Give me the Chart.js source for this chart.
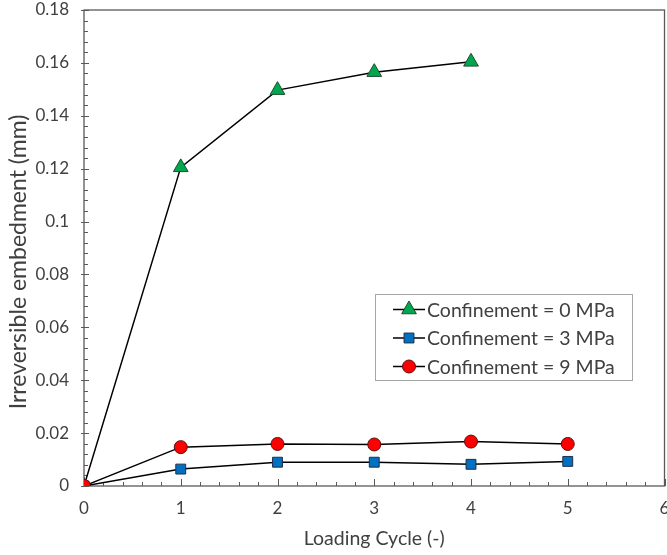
<!DOCTYPE html>
<html lang="en">
<head>
  <meta charset="UTF-8">
  <title>Irreversible embedment vs loading cycle</title>
  <script src="https://cdn.jsdelivr.net/npm/chart.js"></script>
  <style>
    html, body { margin: 0; padding: 0; background: #fff; overflow: hidden; }
    /* a little wider than the window so the last x label gets clipped, like the original */
    #wrap { width: 674px; height: 555px; }
  </style>
</head>
<body>
  <div id="wrap"><canvas id="myChart"></canvas></div>
  <script>
    // data
    const cycles = [0, 1, 2, 3, 4, 5];
    const conf0 = [0, 0.1205, 0.1497, 0.1565, 0.1604];
    const conf3 = [0, 0.0064, 0.0090, 0.0090, 0.0082, 0.0093];
    const conf9 = [0, 0.0147, 0.0159, 0.0157, 0.0168, 0.0159];
    const seriesNames = ["Confinement = 0 MPa", "Confinement = 3 MPa", "Confinement = 9 MPa"];
    const yTicks = [0, 0.02, 0.04, 0.06, 0.08, 0.1, 0.12, 0.14, 0.16, 0.18];
    const xTicks = [0, 1, 2, 3, 4, 5, 6];
    const yTitle = "Irreversible embedment (mm)";
    const xTitle = "Loading Cycle (-)";

    const FONT = "Lato";
    const TEXT = "#404040";
    const AXIS = "#595959";

    const toXY = (vals) => vals.map((v, i) => ({ x: cycles[i], y: v }));

    // frame + inner tick marks (major and minor)
    const framePlugin = {
      id: "frame",
      beforeDatasetsDraw(chart) {
        const { ctx, chartArea: a, scales: { x, y } } = chart;
        ctx.save();
        ctx.strokeStyle = AXIS;
        ctx.lineWidth = 1.3;
        ctx.strokeRect(a.left, a.top, a.right - a.left, a.bottom - a.top);
        ctx.lineWidth = 1;
        ctx.beginPath();
        for (let i = 0; i <= 30; i++) {
          const px = Math.round(x.getPixelForValue(i / 5)) + 0.5;
          const len = i % 5 === 0 ? 7 : 4;
          ctx.moveTo(px, a.bottom);
          ctx.lineTo(px, a.bottom - len);
        }
        for (let i = 0; i <= 45; i++) {
          const py = Math.round(y.getPixelForValue(i * 0.004)) + 0.5;
          const major = i % 5 === 0;
          ctx.moveTo(a.left - (major ? 3 : 0), py);
          ctx.lineTo(a.left + (major ? 5 : 4), py);
        }
        ctx.stroke();

        // y title sits a bit below the middle of the axis in the original
        ctx.fillStyle = TEXT;
        ctx.font = "23px " + FONT;
        ctx.textAlign = "center";
        ctx.textBaseline = "middle";
        ctx.translate(19, (a.top + a.bottom) / 2 + 14);
        ctx.rotate(-Math.PI / 2);
        ctx.fillText(yTitle, 0, 0);
        ctx.restore();
      }
    };

    // boxed legend inside the plot
    const legendPlugin = {
      id: "boxLegend",
      afterDraw(chart) {
        const { ctx, chartArea: a } = chart;
        const bx = a.left + 291, by = a.top + 284, bw = 257, bh = 86;
        ctx.save();
        ctx.fillStyle = "#fff";
        ctx.fillRect(bx, by, bw, bh);
        ctx.strokeStyle = "#a6a6a6";
        ctx.lineWidth = 1;
        ctx.strokeRect(bx + 0.5, by + 0.5, bw, bh);
        ctx.font = "19.5px " + FONT;
        ctx.textBaseline = "middle";
        chart.data.datasets.forEach((ds, i) => {
          const cy = by + 15.5 + i * 28.5;
          ctx.strokeStyle = ds.borderColor;
          ctx.lineWidth = 1.5;
          ctx.beginPath();
          ctx.moveTo(bx + 18, cy);
          ctx.lineTo(bx + 50, cy);
          ctx.stroke();
          ctx.fillStyle = ds.pointBackgroundColor;
          ctx.strokeStyle = ds.pointBorderColor;
          ctx.lineWidth = 1;
          Chart.helpers.drawPoint(ctx, {
            pointStyle: ds.pointStyle,
            radius: ds.pointRadius,
            borderWidth: 1
          }, bx + 34, cy);
          ctx.fillStyle = TEXT;
          ctx.fillText(ds.label, bx + 52, cy + 1);
        });
        ctx.restore();
      }
    };

    const ctx = document.getElementById("myChart").getContext("2d");
    new Chart(ctx, {
      type: "line",
      data: {
        datasets: [
          {
            label: seriesNames[0],
            data: toXY(conf0),
            borderColor: "#000",
            borderWidth: 1.5,
            pointStyle: "triangle",
            pointRadius: 8.5,
            pointBackgroundColor: "#00a650",
            pointBorderColor: "#1f4d2b",
            pointBorderWidth: 1,
            order: 3
          },
          {
            label: seriesNames[1],
            data: toXY(conf3),
            borderColor: "#000",
            borderWidth: 1.5,
            pointStyle: "rect",
            pointRadius: 7,
            pointBackgroundColor: "#0070c0",
            pointBorderColor: "#1f2f4d",
            pointBorderWidth: 1,
            order: 2
          },
          {
            label: seriesNames[2],
            data: toXY(conf9),
            borderColor: "#000",
            borderWidth: 1.5,
            pointStyle: "circle",
            pointRadius: 6.5,
            pointBackgroundColor: "#ff0000",
            pointBorderColor: "#5a1010",
            pointBorderWidth: 1,
            order: 1
          }
        ]
      },
      options: {
        responsive: true,
        maintainAspectRatio: false,
        animation: false,
        layout: { padding: { left: 0, right: 3, top: 10, bottom: 0 } },
        plugins: {
          legend: { display: false },
          tooltip: { enabled: false }
        },
        scales: {
          x: {
            type: "linear",
            min: 0,
            max: 6,
            afterBuildTicks: (s) => { s.ticks = xTicks.map((v) => ({ value: v })); },
            afterFit: (s) => { s.height = 69; s.paddingLeft = 0; s.paddingRight = 0; },
            grid: { display: false, drawTicks: false },
            border: { display: false },
            ticks: {
              padding: 12,
              maxRotation: 0,
              color: TEXT,
              font: { family: FONT, size: 17 }
            },
            title: {
              display: true,
              text: xTitle,
              color: TEXT,
              font: { family: FONT, size: 19.5 },
              padding: { top: 0, bottom: 5 }
            }
          },
          y: {
            min: 0,
            max: 0.18,
            afterBuildTicks: (s) => { s.ticks = yTicks.map((v) => ({ value: v })); },
            afterFit: (s) => { s.width = 84; s.paddingTop = 0; s.paddingBottom = 0; },
            grid: { display: false, drawTicks: false },
            border: { display: false },
            ticks: {
              padding: 15,
              color: TEXT,
              font: { family: FONT, size: 17 },
              callback: (v) => String(+v.toFixed(2))
            },
            title: { display: false }
          }
        }
      },
      plugins: [framePlugin, legendPlugin]
    });
  </script>
</body>
</html>
